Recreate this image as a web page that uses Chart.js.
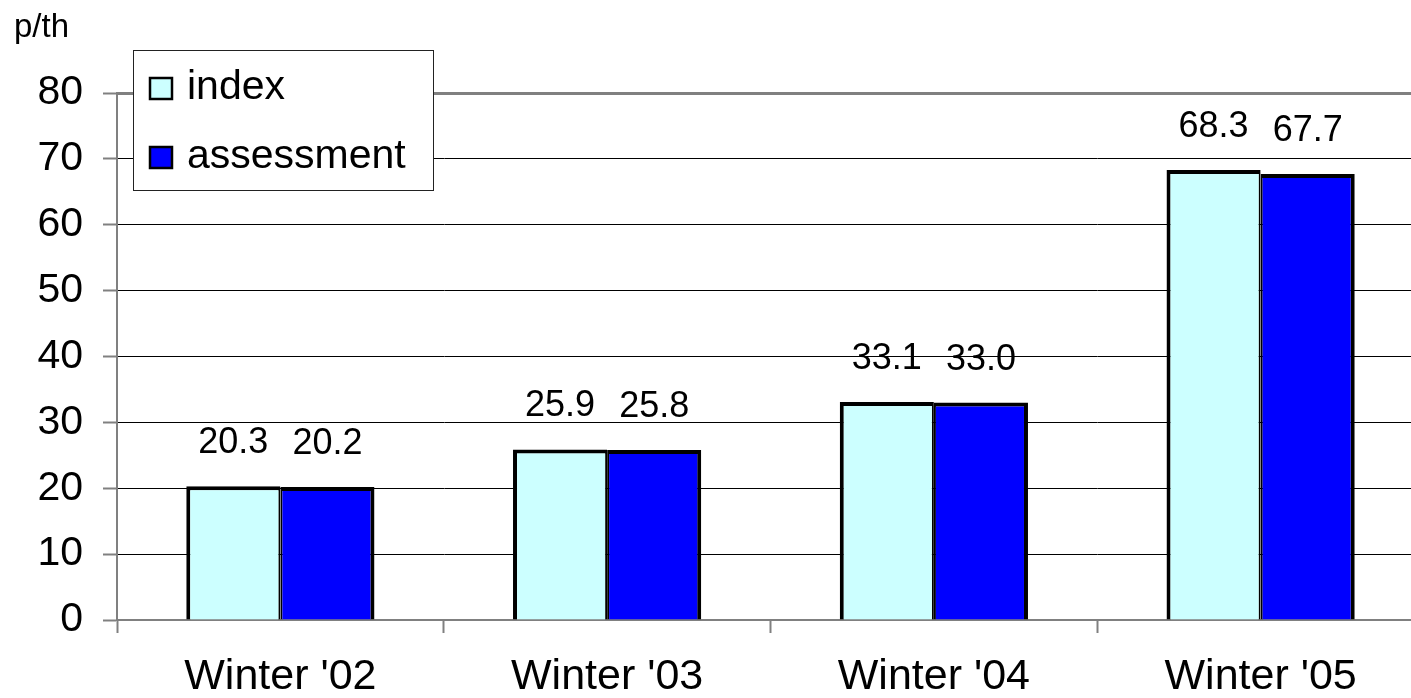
<!DOCTYPE html>
<html>
<head>
<meta charset="utf-8">
<script src="https://cdn.jsdelivr.net/npm/chart.js@4/dist/chart.umd.min.js"></script>
<style>
  html, body { margin: 0; padding: 0; background: #fff; overflow: hidden; }
  #wrap { position: absolute; left: 0; top: 0; width: 1424px; height: 698px; }
</style>
</head>
<body>
<div id="wrap"><canvas id="c" width="1424" height="698"></canvas></div>
<script>
const categories = ["Winter '02", "Winter '03", "Winter '04", "Winter '05"];
const indexValues = [20.3, 25.9, 33.1, 68.3];
const assessmentValues = [20.2, 25.8, 33.0, 67.7];
const seriesNames = ["index", "assessment"];
const unitLabel = "p/th";
const yMin = 0, yMax = 80, yStep = 10;

const FONT = "'Liberation Sans', Arial, sans-serif";

const extrasPlugin = {
  id: 'extras',
  afterDatasetsDraw(chart) {
    const ctx = chart.ctx;
    ctx.save();
    ctx.fillStyle = '#000';
    ctx.font = '36px ' + FONT;
    ctx.textAlign = 'center';
    ctx.textBaseline = 'alphabetic';
    chart.data.datasets.forEach((ds, di) => {
      const meta = chart.getDatasetMeta(di);
      meta.data.forEach((el, i) => {
        ctx.fillText(ds.data[i].toFixed(1), el.x, el.y - 33);
      });
    });
    ctx.restore();
  },
  afterDraw(chart) {
    const ctx = chart.ctx;
    ctx.save();
    // unit label
    ctx.fillStyle = '#000';
    ctx.font = '33px ' + FONT;
    ctx.textAlign = 'left';
    ctx.textBaseline = 'alphabetic';
    ctx.fillText(unitLabel, 14, 37);
    // legend box
    const bx = 133.5, by = 50.5, bw = 300, bh = 140;
    ctx.fillStyle = '#fff';
    ctx.fillRect(bx, by, bw, bh);
    ctx.strokeStyle = '#222';
    ctx.lineWidth = 1;
    ctx.strokeRect(bx, by, bw, bh);
    const rows = [78, 147];
    chart.data.datasets.forEach((ds, di) => {
      const sy = rows[di];
      ctx.fillStyle = ds.backgroundColor;
      ctx.fillRect(150, sy, 22, 21);
      ctx.strokeStyle = '#000';
      ctx.lineWidth = 2.5;
      ctx.strokeRect(150, sy, 22, 21);
      ctx.fillStyle = '#000';
      ctx.font = '41px ' + FONT;
      ctx.textAlign = 'left';
      ctx.fillText(ds.label, 187, sy + 21);
    });
    ctx.restore();
  }
};

new Chart(document.getElementById('c'), {
  type: 'bar',
  data: {
    labels: categories,
    datasets: [
      {
        label: seriesNames[0],
        data: indexValues,
        backgroundColor: '#CCFFFF',
        borderColor: '#000',
        borderWidth: { top: 4, left: 4, right: 2, bottom: 0 },
        borderSkipped: false,
        categoryPercentage: 0.576,
        barPercentage: 1.0
      },
      {
        label: seriesNames[1],
        data: assessmentValues,
        backgroundColor: '#0000FF',
        borderColor: '#000',
        borderWidth: { top: 4, left: 2, right: 4, bottom: 0 },
        borderSkipped: false,
        categoryPercentage: 0.576,
        barPercentage: 1.0
      }
    ]
  },
  options: {
    responsive: false,
    animation: false,
    layout: { padding: { top: 93, right: 0, left: 0, bottom: 0 } },
    plugins: {
      legend: { display: false },
      tooltip: { enabled: false },
      title: { display: false }
    },
    scales: {
      x: {
        offset: true,
        grid: {
          offset: true,
          drawOnChartArea: false,
          drawTicks: true,
          tickLength: 13,
          tickColor: '#808080',
          tickWidth: 2
        },
        border: { display: true, color: '#808080', width: 2 },
        ticks: {
          font: { family: FONT, size: 43 },
          color: '#000',
          padding: 18,
          maxRotation: 0,
          autoSkip: false
        },
        afterFit(scale) { scale.height = 78; }
      },
      y: {
        min: yMin,
        max: yMax,
        ticks: {
          stepSize: yStep,
          font: { family: FONT, size: 41 },
          color: '#000',
          padding: 20
        },
        grid: {
          color: (c) => (c.tick && c.tick.value === yMax) ? '#808080' : '#000',
          lineWidth: (c) => (c.tick && c.tick.value === yMax) ? 3 : 1,
          tickColor: '#808080',
          tickLength: 14,
          tickWidth: 2
        },
        border: { display: true, color: '#808080', width: 2 },
        afterFit(scale) { scale.width = 117; }
      }
    }
  },
  plugins: [extrasPlugin]
});
</script>
</body>
</html>
